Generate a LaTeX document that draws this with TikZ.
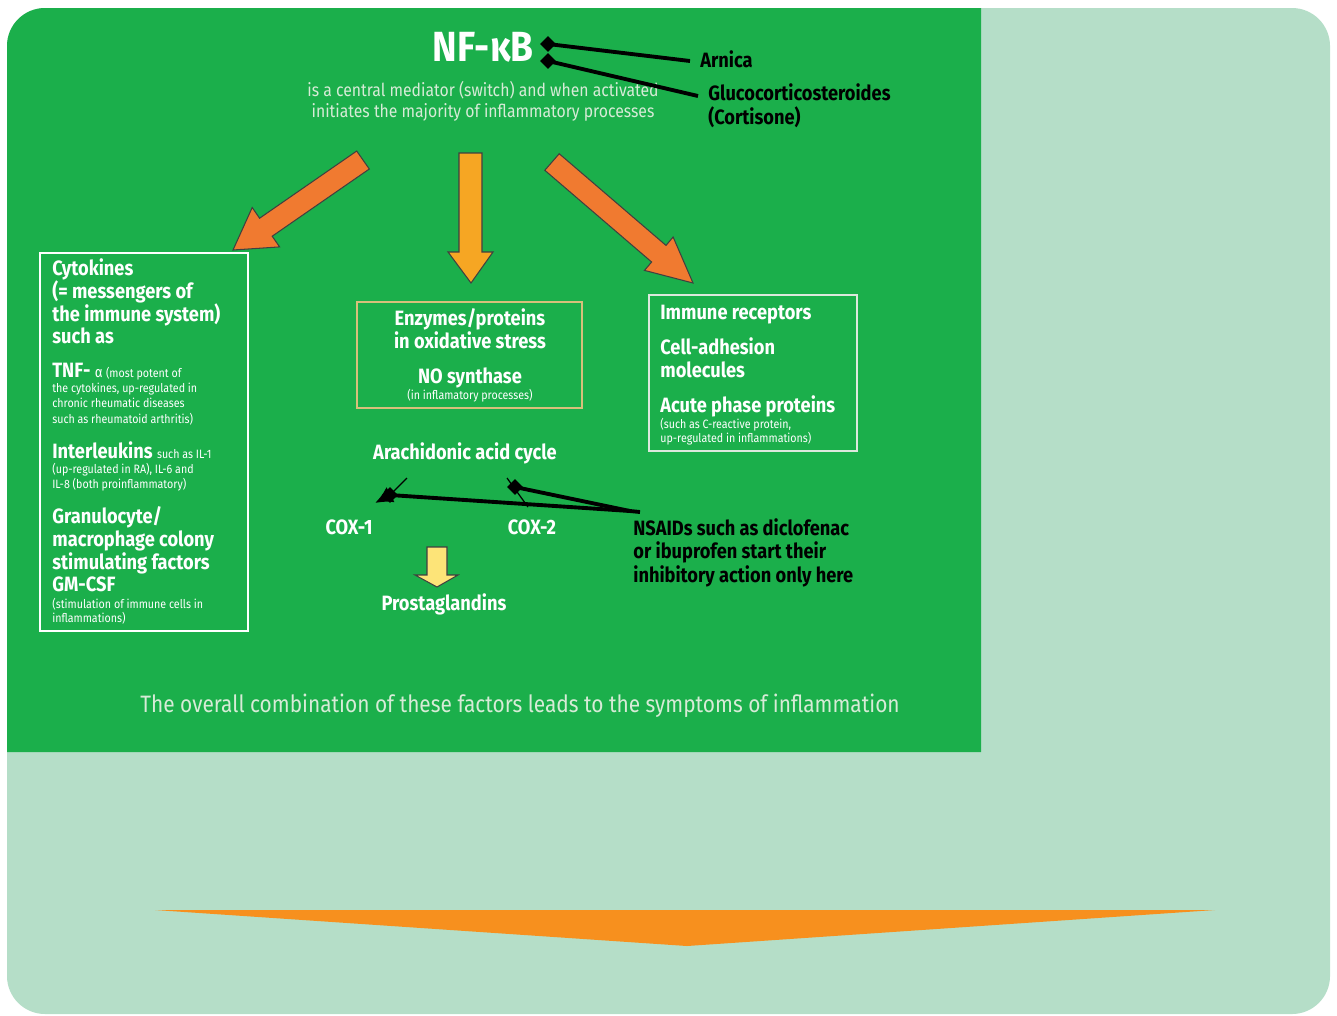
\documentclass[tikz,border=0pt]{standalone}
\usepackage{fontspec}
\setmainfont{Fira Sans}[FakeStretch=0.88]
\usetikzlibrary{shapes.geometric,arrows.meta}
\definecolor{panel}{HTML}{1BAF4B}
\definecolor{lightbg}{HTML}{B5DEC8}
\definecolor{arrorange}{HTML}{F07A30}
\definecolor{arrmid}{HTML}{F6A623}
\definecolor{tri}{HTML}{F7901E}
\definecolor{yel}{HTML}{FDE478}
\definecolor{subtxt}{HTML}{D7EBD7}
\definecolor{tan}{HTML}{D8C07A}
\definecolor{paleframe}{HTML}{DDE8DD}
\begin{document}
\begin{tikzpicture}[x=0.02cm,y=-0.02cm,
  lab/.style={text=white, font=\bfseries\fontsize{11.8}{13}\selectfont, inner sep=0pt, anchor=base west},
  labc/.style={lab, anchor=base},
  sml/.style={text=white, font=\fontsize{6.9}{8}\selectfont, inner sep=0pt, anchor=base west},
  smlc/.style={sml, anchor=base},
  blab/.style={text=black, font=\bfseries\fontsize{11.8}{13}\selectfont, inner sep=0pt, anchor=base west},
  thin/.style={text=subtxt, font=\fontsize{10.2}{12}\selectfont, inner sep=0pt, anchor=base},
  fat/.style={draw=black!75, line width=0.6pt, line join=miter},
  blk/.style={draw=black, line width=2.2pt},
  tick/.style={draw=black, line width=0.7pt},
  dia/.style={diamond, fill=black, inner sep=0pt, minimum size=16*0.02cm},
  frame/.style={line width=1pt}
]
\useasboundingbox (0,0) rectangle (1337,1015);
% backgrounds
\fill[lightbg, rounded corners=0.76cm] (7,8) rectangle (1330,1014);
\fill[panel] (7,752) -- (7,46) arc[start angle=180, end angle=90, radius=0.76cm] -- (981,8) -- (981,752) -- cycle;
% bottom triangle
\fill[tri] (155,910) -- (1215,910) -- (687,946) -- cycle;

% title
\node[text=white, font=\bfseries\fontsize{24}{28}\selectfont, inner sep=0pt, anchor=base] (nfkb) at (483,61) {NF-κB};
\node[thin] (sub1) at (483,96) {is a central mediator (switch) and when activated};
\node[thin] (sub2) at (483,117) {initiates the majority of inflammatory processes};

% inhibitors
\node[blab] (arnica) at (700,67) {Arnica};
\node[blab] (gluco) at (708,100) {Glucocorticosteroides};
\node[blab] (cort) at (708,124) {(Cortisone)};
\node[dia] (d1) at (548,44) {};
\node[dia] (d2) at (548,61) {};
\draw[blk] (d1.center) -- ([xshift=-10*0.02cm]arnica.west |- 0,61);
\draw[blk] (d2.center) -- ([xshift=-10*0.02cm]gluco.west |- 0,96);

% three big arrows
\filldraw[fat, fill=arrorange] (356.7,151) -- (259.6,218.2) -- (252.2,207.5) -- (233,250) -- (279.6,246.9) -- (272.2,236.2) -- (369.3,169) -- cycle;
\filldraw[fat, fill=arrmid] (459,153) -- (482,153) -- (482,252) -- (493,252) -- (471,283) -- (448,252) -- (459,252) -- cycle;
\filldraw[fat, fill=arrorange] (559.2,153.7) -- (666.0,245.4) -- (673.1,237.0) -- (693,283) -- (644.5,270.4) -- (651.6,262.0) -- (544.8,170.3) -- cycle;

% left box
\draw[frame, white] (40,253) rectangle (248,631);
\node[lab] (c1) at (52,275) {Cytokines};
\node[lab] (c2) at (52,298) {(= messengers of};
\node[lab] (c3) at (52,321) {the immune system)};
\node[lab] (c4) at (52,343) {such as};
\node[lab] (tnf) at (52,377) {TNF- \fontsize{8.5}{9}\selectfont\mdseries α \fontsize{6.9}{8}\selectfont(most potent of};
\node[sml] (t2) at (52,392) {the cytokines, up-regulated in};
\node[sml] (t3) at (52,407) {chronic rheumatic diseases};
\node[sml] (t4) at (52,423) {such as rheumatoid arthritis)};
\node[lab] (il) at (52,458) {Interleukins \fontsize{6.9}{8}\selectfont\mdseries such as IL-1};
\node[sml] (i2) at (52,473) {(up-regulated in RA), IL-6 and};
\node[sml] (i3) at (52,488) {IL-8 (both proinflammatory)};
\node[lab] (g1) at (52,523) {Granulocyte/};
\node[lab] (g2) at (52,546) {macrophage colony};
\node[lab] (g3) at (52,569) {stimulating factors};
\node[lab] (g4) at (52,591) {GM-CSF};
\node[sml] (g5) at (52,608) {(stimulation of immune cells in};
\node[sml] (g6) at (52,622) {inflammations)};

% center box
\draw[frame, tan] (357,302) rectangle (582,408);
\node[labc] (e1) at (470,325) {Enzymes/proteins};
\node[labc] (e2) at (470,348) {in oxidative stress};
\node[labc] (e3) at (470,383) {NO synthase};
\node[smlc] (e4) at (470,399) {(in inflamatory processes)};

% right box
\draw[frame, paleframe] (649,295) rectangle (857,451);
\node[lab] (r1) at (660,319) {Immune receptors};
\node[lab] (r2) at (660,354) {Cell-adhesion};
\node[lab] (r3) at (660,377) {molecules};
\node[lab] (r4) at (660,412) {Acute phase proteins};
\node[sml] (r5) at (660,428) {(such as C-reactive protein,};
\node[sml] (r6) at (660,442) {up-regulated in inflammations)};

% arachidonic acid cycle
\node[labc] (ara) at (465,459) {Arachidonic acid cycle};
\node[labc] (cox1) at (349,534) {COX-1};
\node[labc] (cox2) at (532,534) {COX-2};
\node[dia] (x1) at (390,495) {};
\node[dia] (x2) at (515,487) {};
\coordinate (ns) at (630,511);
\draw[blk, -{Latex[length=10pt,width=10pt]}] (ns) -- (x1.center) -- (375,503);
\draw[blk] (ns) -- (x2.center);
\draw[blk] (ns) -- (640,512);
\draw[tick] (x1.center) -- (407,478);
\draw[tick] (507,478) -- (528,507);
\node[blab] (n1) at (633,535) {NSAIDs such as diclofenac};
\node[blab] (n2) at (633,558) {or ibuprofen start their};
\node[blab] (n3) at (633,582) {inhibitory action only here};

% prostaglandins
\filldraw[fat, fill=yel] (427,547) -- (447,547) -- (447,575) -- (458,575) -- (437,587) -- (415,575) -- (427,575) -- cycle;
\node[labc] (pros) at (444,610) {Prostaglandins};

% bottom statement
\node[thin, font=\fontsize{13.5}{16}\selectfont] (overall) at (520,712) {The overall combination of these factors leads to the symptoms of inflammation};
\end{tikzpicture}
\end{document}
